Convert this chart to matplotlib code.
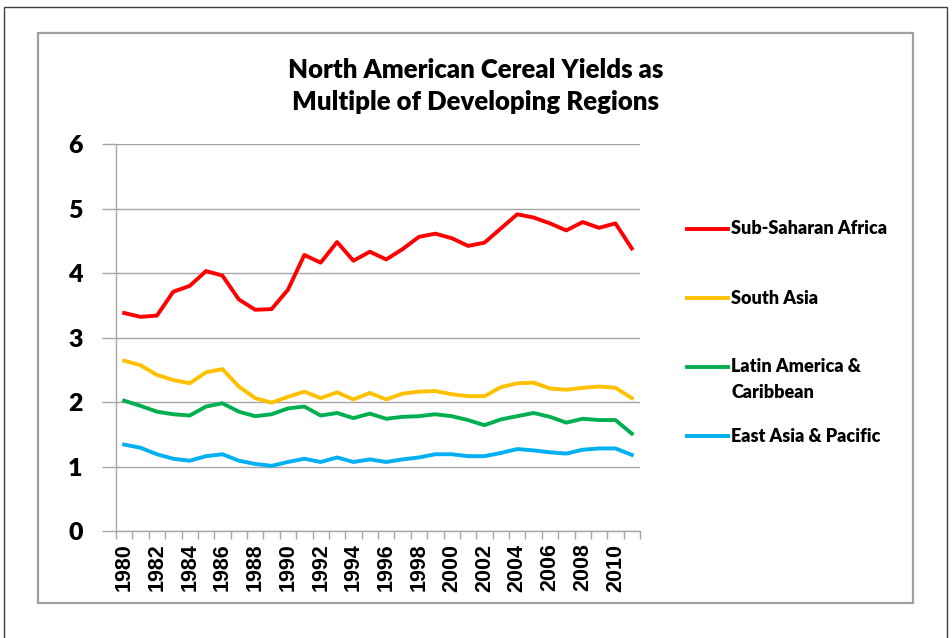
import numpy as np
import matplotlib.pyplot as plt
from matplotlib.lines import Line2D
from matplotlib.patches import Rectangle

years = list(range(1980, 2012))

sub_saharan = [3.38, 3.32, 3.34, 3.71, 3.80, 4.03, 3.96, 3.59, 3.43, 3.44,
               3.74, 4.28, 4.16, 4.48, 4.19, 4.33, 4.21, 4.37, 4.56, 4.61,
               4.54, 4.42, 4.47, 4.69, 4.91, 4.86, 4.77, 4.66, 4.79, 4.70,
               4.77, 4.38]
south_asia = [2.64, 2.57, 2.42, 2.34, 2.29, 2.46, 2.51, 2.24, 2.06, 1.99,
              2.08, 2.16, 2.06, 2.15, 2.04, 2.14, 2.04, 2.13, 2.16, 2.17,
              2.12, 2.09, 2.09, 2.23, 2.29, 2.30, 2.21, 2.19, 2.22, 2.24,
              2.22, 2.06]
latin_america = [2.02, 1.94, 1.85, 1.81, 1.79, 1.93, 1.98, 1.85, 1.78, 1.81,
                 1.90, 1.93, 1.79, 1.83, 1.75, 1.82, 1.74, 1.77, 1.78, 1.81,
                 1.78, 1.72, 1.64, 1.73, 1.78, 1.83, 1.77, 1.68, 1.74, 1.72,
                 1.72, 1.51]
east_asia = [1.34, 1.29, 1.19, 1.12, 1.09, 1.16, 1.19, 1.09, 1.04, 1.01,
             1.07, 1.12, 1.07, 1.14, 1.07, 1.11, 1.07, 1.11, 1.14, 1.19,
             1.19, 1.16, 1.16, 1.21, 1.27, 1.25, 1.22, 1.20, 1.26, 1.28,
             1.28, 1.18]

labels = ["Sub-Saharan Africa", "South Asia", "Latin America &\nCaribbean",
          "East Asia & Pacific"]
colors = ["#FF0000", "#FFC000", "#00B050", "#00B0F0"]
series = [sub_saharan, south_asia, latin_america, east_asia]

W, H = 952, 638
fig = plt.figure(figsize=(W / 100, H / 100), dpi=100)

def fx(x):
    return x / W

def fy(y):
    return 1 - y / H

# outer border and chart frame
fig.add_artist(Rectangle((fx(4), fy(645)), fx(947) - fx(4), fy(7) - fy(645),
                         transform=fig.transFigure, fill=False,
                         edgecolor="#404040", lw=1.0))
fig.add_artist(Rectangle((fx(38), fy(603)), fx(913) - fx(38), fy(33) - fy(603),
                         transform=fig.transFigure, fill=False,
                         edgecolor="#A0A0A0", lw=1.6))

ax = fig.add_axes([fx(116), fy(531), fx(640) - fx(116), fy(144) - fy(531)])

x = np.arange(len(years))
for vals, c in zip(series, colors):
    ax.plot(x, vals, color=c, lw=2.8, solid_joinstyle="round", zorder=3)

ax.set_xlim(-0.5, len(years) - 0.5)
ax.set_ylim(0, 6)
ax.set_yticks(range(0, 7))
ax.set_yticklabels([str(v) for v in range(0, 7)], fontsize=18,
                   fontfamily="Lato", fontweight="heavy")
ax.yaxis.grid(True, color="#A6A6A6", lw=1.0)
ax.set_axisbelow(True)
ax.tick_params(axis="y", length=10, width=1.0, color="#A6A6A6", pad=14)

ax.set_xticks(x[::2])
ax.set_xticklabels([str(y) for y in years[::2]], rotation=90, fontsize=15.5,
                   fontfamily="Liberation Sans", fontweight="bold")
ax.set_xticks(np.arange(-0.5, len(years)), minor=True)
ax.tick_params(axis="x", which="major", length=0, pad=9)
ax.tick_params(axis="x", which="minor", length=6, width=1.0,
               color="#A6A6A6", direction="out")

for side in ["top", "right"]:
    ax.spines[side].set_visible(False)
for side in ["left", "bottom"]:
    ax.spines[side].set_color("#A6A6A6")
    ax.spines[side].set_linewidth(1.0)

fig.text(fx(476), fy(86), "North American Cereal Yields as\nMultiple of Developing Regions",
         ha="center", va="center", fontsize=18.5, fontfamily="Lato",
         fontweight="heavy", linespacing=1.35)

# legend entries
legend_y = [229, 298, 367, 436]
for lbl, c, ly in zip(labels, colors, legend_y):
    fig.add_artist(Line2D([fx(687), fx(728)], [fy(ly), fy(ly)], color=c, lw=2.8,
                          transform=fig.transFigure))
    fig.text(fx(731), fy(ly), lbl.split("\n")[0], ha="left", va="center",
             fontsize=13, fontfamily="Lato", fontweight="heavy")
    if "\n" in lbl:
        fig.text(fx(731), fy(ly + 25), lbl.split("\n")[1], ha="left",
                 va="center", fontsize=13, fontfamily="Lato",
                 fontweight="heavy")

fig.savefig("out.png", dpi=100)
